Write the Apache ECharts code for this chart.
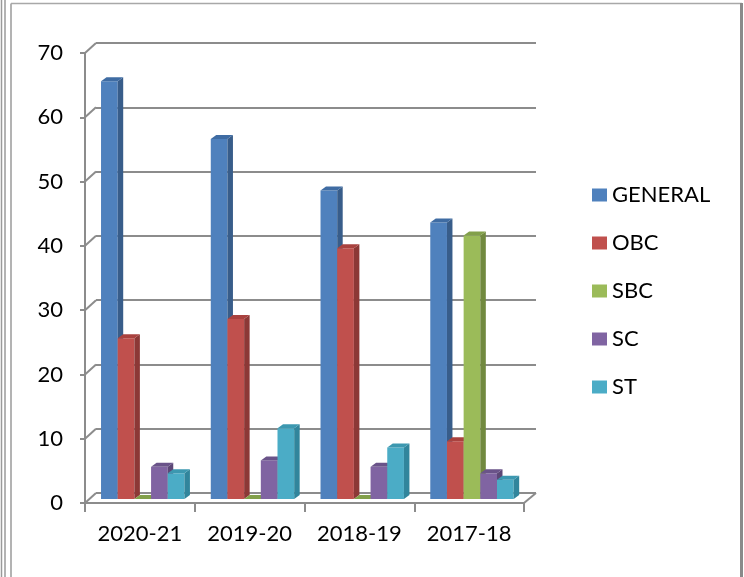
<!DOCTYPE html>
<html>
<head>
<meta charset="utf-8">
<script src="https://cdn.jsdelivr.net/npm/echarts@6/dist/echarts.min.js"></script>
<style>
  html, body { margin: 0; padding: 0; background: #fff; }
  #chart { width: 744px; height: 577px; }
</style>
</head>
<body>
<div id="chart"></div>
<script>
// 数据
const categories = ['2020-21', '2019-20', '2018-19', '2017-18']
const seriesNames = ['GENERAL', 'OBC', 'SBC', 'SC', 'ST']
const general = [65, 56, 48, 43]
const obc = [25, 28, 39, 9]
const sbc = [0, 0, 0, 41]
const sc = [5, 6, 5, 4]
const st = [4, 11, 8, 3]
const yTicks = [0, 10, 20, 30, 40, 50, 60, 70]

const seriesValues = [general, obc, sbc, sc, st]
const faceColors = ['#4F81BD', '#C0504D', '#9BBB59', '#8064A2', '#4BACC6']
const sideColors = ['#385D8A', '#8C3836', '#71893F', '#5C4776', '#31859C']
const topColors = ['#3F6CA3', '#A9423F', '#82A04A', '#6A5389', '#3C98B0']

const FONT = 'Lato'
const GRID_COLOR = '#8C8C8C'

// 3D 柱子：正面 + 侧面 + 顶面
function makeBarRenderer(idx) {
  return function (params, api) {
    const c = api.value(0)
    const v = api.value(1)
    const band = api.size([1, 0])[0]
    const base = api.coord([c, 0])
    const top = api.coord([c, v])
    const bw = band * 0.152
    const x = base[0] - band / 2 + band * 0.146 + idx * bw
    const yb = base[1] - 4
    const yt = top[1] - 4
    const dx = 5.5, dy = 4
    const children = []
    if (v > 0) {
      children.push({
        type: 'rect',
        shape: { x: x, y: yt, width: bw, height: yb - yt },
        style: { fill: faceColors[idx] }
      })
      children.push({
        type: 'polygon',
        shape: { points: [[x + bw, yt], [x + bw + dx, yt - dy], [x + bw + dx, yb - dy], [x + bw, yb]] },
        style: { fill: sideColors[idx] }
      })
    }
    children.push({
      type: 'polygon',
      shape: { points: [[x, yt], [x + dx, yt - dy], [x + bw + dx, yt - dy], [x + bw, yt]] },
      style: { fill: topColors[idx] }
    })
    return { type: 'group', children: children }
  }
}

// 前后墙之间的斜线
function renderDiagonal(params, api) {
  const v = api.value(0)
  const p = api.coord([0, v])
  const x0 = params.coordSys.x
  const lines = [{
    type: 'line',
    shape: { x1: x0, y1: p[1], x2: x0 + 11, y2: p[1] - 10 },
    style: { stroke: GRID_COLOR, lineWidth: 2 }
  }]
  if (v === 0) {
    const x1 = params.coordSys.x + params.coordSys.width
    lines.push({
      type: 'line',
      shape: { x1: x1, y1: p[1], x2: x1 + 12, y2: p[1] - 10 },
      style: { stroke: GRID_COLOR, lineWidth: 2 }
    })
  }
  return { type: 'group', children: lines }
}

const chart = echarts.init(document.getElementById('chart'))

const barSeries = seriesNames.map((name, i) => ({
  name: name,
  type: 'custom',
  xAxisIndex: 0,
  yAxisIndex: 0,
  z: 10,
  itemStyle: { color: faceColors[i] },
  renderItem: makeBarRenderer(i),
  encode: { x: 0, y: 1 },
  data: seriesValues[i].map((v, j) => [j, v])
}))

chart.setOption({
  animation: false,
  backgroundColor: '#fff',
  textStyle: { fontFamily: FONT },
  grid: [
    { left: 85, top: 53, width: 439, height: 450 },
    { left: 96, top: 43, width: 440, height: 450 }
  ],
  legend: {
    orient: 'vertical',
    left: 587,
    top: 179,
    icon: 'rect',
    itemWidth: 15,
    itemHeight: 13,
    itemGap: 26,
    data: seriesNames,
    textStyle: { fontFamily: FONT, fontSize: 22, color: '#000' }
  },
  xAxis: [
    {
      type: 'category',
      gridIndex: 0,
      data: categories,
      axisLine: { lineStyle: { color: GRID_COLOR, width: 2 } },
      axisTick: { show: true, length: 9, lineStyle: { color: GRID_COLOR, width: 2 } },
      axisLabel: { color: '#000', fontSize: 22, fontFamily: FONT, margin: 20, interval: 0 }
    },
    {
      type: 'category',
      gridIndex: 1,
      data: categories,
      show: false
    }
  ],
  yAxis: [
    {
      type: 'value',
      gridIndex: 0,
      min: 0,
      max: 70,
      interval: 10,
      axisLine: { show: true, lineStyle: { color: GRID_COLOR, width: 2 } },
      axisTick: { show: true, length: 5, lineStyle: { color: GRID_COLOR, width: 2 } },
      axisLabel: { color: '#000', fontSize: 22, fontFamily: FONT, margin: 22 },
      splitLine: { show: false }
    },
    {
      type: 'value',
      gridIndex: 1,
      min: 0,
      max: 70,
      interval: 10,
      axisLine: { show: false },
      axisTick: { show: false },
      axisLabel: { show: false },
      splitLine: { show: true, lineStyle: { color: GRID_COLOR, width: 2 } }
    }
  ],
  series: [
    {
      type: 'custom',
      name: 'walls',
      xAxisIndex: 0,
      yAxisIndex: 0,
      z: 1,
      silent: true,
      renderItem: renderDiagonal,
      encode: { y: 0 },
      data: yTicks.map((v) => [v])
    }
  ].concat(barSeries),
  graphic: [
    { type: 'line', shape: { x1: 1.5, y1: 0, x2: 1.5, y2: 577 }, style: { stroke: '#9A9A9A', lineWidth: 1.5 } },
    { type: 'line', shape: { x1: 5, y1: 0, x2: 5, y2: 577 }, style: { stroke: '#9A9A9A', lineWidth: 1.5 } },
    { type: 'line', shape: { x1: 11, y1: 3.5, x2: 11, y2: 577 }, style: { stroke: '#9A9A9A', lineWidth: 1.5 } },
    { type: 'line', shape: { x1: 11, y1: 3.5, x2: 742, y2: 3.5 }, style: { stroke: '#A8A8A8', lineWidth: 1.5 } },
    { type: 'line', shape: { x1: 741.5, y1: 3, x2: 741.5, y2: 577 }, style: { stroke: '#8A8A8A', lineWidth: 3 } }
  ]
})
</script>
</body>
</html>
